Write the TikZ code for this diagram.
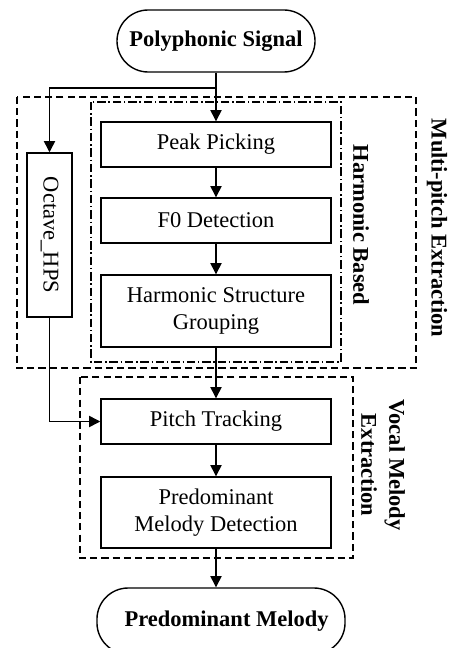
\documentclass[tikz,border=0pt]{standalone}
\usepackage{fontspec}
\setmainfont{Liberation Serif}
\usepackage{tikz}
\usetikzlibrary{arrows.meta, positioning}

\tikzset{
	block/.style={draw, line width=1pt, minimum width=5.75cm, minimum height=1.125cm, align=center, inner sep=2pt},
	term/.style={draw, line width=1pt, rounded corners=0.78cm, align=center, font=\fontsize{16}{19}\selectfont\bfseries},
	flow/.style={line width=1pt, -{Triangle[length=8pt,width=8pt]}},
	group/.style={line width=1pt, dash pattern=on 5pt off 3pt},
	subgroup/.style={line width=1pt, dash pattern=on 6pt off 2pt on 1pt off 2pt},
	caption/.style={rotate=-90, align=center, font=\fontsize{16}{20}\selectfont\bfseries}
}

\begin{document}
\begin{tikzpicture}[x=0.025cm, y=-0.025cm, font=\fontsize{16}{19}\selectfont]
				\clip (0, 0) rectangle (451, 648);

				% grouping frames
				\draw[group] (17, 97) rectangle (416, 368);
				\draw[subgroup] (91, 102) rectangle (341, 362);
				\draw[group] (80, 377) rectangle (353, 558);

				\node[term, minimum width=4.95cm, minimum height=1.55cm] (signal) at (216, 41) {Polyphonic Signal};
				\node[block] (peak) at (216, 144.5) {Peak Picking};
				\node[block] (fzero) at (216, 220.5) {F0 Detection};
				\node[block, minimum height=1.8cm] (grouping) at (216, 311) {Harmonic Structure\\Grouping};
				\node[block, minimum width=1.125cm, minimum height=4.1cm] (octave) at (49.5, 235) {\rotatebox{-90}{Octave\_HPS}};
				\node[block] (tracking) at (216, 421.5) {Pitch Tracking};
				\node[block, minimum height=1.775cm] (detect) at (216, 512.5) {Predominant\\Melody Detection};
				\node[term, minimum width=6.2cm, minimum height=1.65cm] (melody) at (221, 621) {\hspace{8pt}Predominant Melody};

				\node[caption] (multi) at (437, 228) {Multi-pitch Extraction};
				\node[caption] (harm) at (361, 225) {Harmonic Based};
				\node[caption] (vocal) at (383, 465) {Vocal Melody\\Extraction};

				% connectors
				\coordinate (split) at (216, 88);
				\draw[flow] (signal.south) -- (peak.north);
				\draw[flow] (split) -| (octave.north);
				\draw[flow] (peak) -- (fzero);
				\draw[flow] (fzero) -- (grouping);
				\draw[flow] (grouping) -- (tracking);
				\draw[flow] (octave.south) |- (tracking.west);
				\draw[flow] (tracking) -- (detect);
				\draw[flow] (detect.south) -- (detect.south |- melody.north);

			\end{tikzpicture}
\end{document}
